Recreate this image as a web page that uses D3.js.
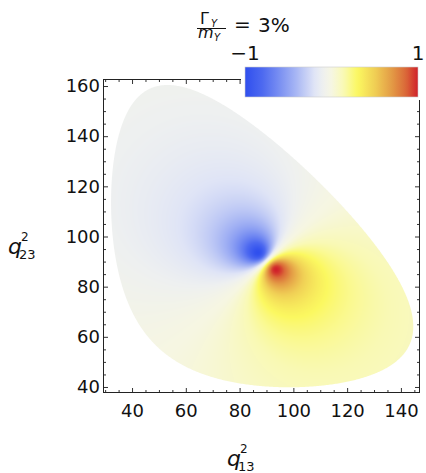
<!DOCTYPE html>
<html><head><meta charset="utf-8">
<script src="https://cdn.jsdelivr.net/npm/d3@7"></script>
<style>body{margin:0;background:#fff} svg{display:block} text{font-family:"DejaVu Sans",sans-serif;fill:#111}</style>
</head><body>
<svg id="c" width="426" height="473"></svg>
<script>
// ---- data ----
const xTicks = [40, 60, 80, 100, 120, 140];
const yTicks = [40, 60, 80, 100, 120, 140, 160];
const legendTicks = [-1, 1];
const parentMass = 15.715;                 // M
const daughterMasses = [3.05, 3.69, 2.625]; // m1, m2, m3
const resonanceMass2 = 90.2;               // m_Y^2
const resonanceWidthParam = 3.4;           // m_Y * Gamma_Y
const falloff = 1.15;                       // sharpness of the interference lobes
const titleRatio = "3%";

// ---- style / layout ----
const frame = {left: 103, right: 420, top: 79, bottom: 393};
const cmapPos = [0, 0.1, 0.2, 0.3, 0.4, 0.45, 0.5, 0.57, 0.65, 0.75, 0.85, 0.93, 1];
const cmapCol = ["#2f4fee", "#4d69f0", "#7a90f2", "#aab8f4", "#dfe4f6", "#eef0f0", "#f6f6e2",
                 "#f9f9b4", "#fbf860", "#f0cf55", "#e39a45", "#da6838", "#d0202a"];

const svg = d3.select("#c");
const x = d3.scaleLinear().domain([29.2, 147.1]).range([frame.left, frame.right]);
const y = d3.scaleLinear().domain([37.6, 162.8]).range([frame.bottom, frame.top]);
const color = d3.scaleLinear().domain(cmapPos.map(t => 2 * t - 1)).range(cmapCol).clamp(true);

function field(s13, s23) {
  const u = s13 - resonanceMass2, v = s23 - resonanceMass2, w = resonanceWidthParam;
  const f = 2 * w * (u - v) / (u * u + v * v + 2 * w * w);
  return Math.sign(f) * Math.pow(Math.abs(f), falloff);
}

// ---- Dalitz boundary ----
const [m1, m2, m3] = daughterMasses, M = parentMass;
function s13Range(s23) {
  const rs = Math.sqrt(s23);
  const E3 = (s23 - m2 * m2 + m3 * m3) / (2 * rs);
  const E1 = (M * M - s23 - m1 * m1) / (2 * rs);
  const p3 = Math.sqrt(Math.max(0, E3 * E3 - m3 * m3));
  const p1 = Math.sqrt(Math.max(0, E1 * E1 - m1 * m1));
  const e = (E3 + E1) * (E3 + E1);
  return [e - (p3 + p1) * (p3 + p1), e - (p3 - p1) * (p3 - p1)];
}
const s23min = (m2 + m3) ** 2, s23max = (M - m1) ** 2;
const N = 500, upper = [], lower = [];
for (let k = 0; k <= N; k++) {
  const s23 = s23min + (s23max - s23min) * (1 - Math.cos(Math.PI * k / N)) / 2;
  const r = s13Range(s23);
  upper.push([r[1], s23]); lower.push([r[0], s23]);
}
const boundary = upper.concat(lower.reverse());
const line = d3.line().x(d => x(d[0])).y(d => y(d[1]));

// ---- density field ----
const cw = frame.right - frame.left, ch = frame.bottom - frame.top;
const cv = document.createElement("canvas"); cv.width = cw; cv.height = ch;
const ctx = cv.getContext("2d"); const img = ctx.createImageData(cw, ch);
for (let j = 0; j < ch; j++) {
  const s23 = y.invert(frame.top + j + 0.5);
  for (let i = 0; i < cw; i++) {
    const s13 = x.invert(frame.left + i + 0.5);
    const c = d3.rgb(color(field(s13, s23)));
    const o = 4 * (j * cw + i);
    img.data[o] = c.r; img.data[o + 1] = c.g; img.data[o + 2] = c.b; img.data[o + 3] = 255;
  }
}
ctx.putImageData(img, 0, 0);

const defs = svg.append("defs");
defs.append("clipPath").attr("id", "dal").append("path").attr("d", line(boundary) + "Z");
svg.append("image").attr("x", frame.left).attr("y", frame.top).attr("width", cw).attr("height", ch)
  .attr("href", cv.toDataURL()).attr("clip-path", "url(#dal)");

// ---- axes ----
const minorX = d3.range(30, 150, 5).filter(v => !xTicks.includes(v) && v > x.domain()[0] && v < x.domain()[1]);
const minorY = d3.range(40, 165, 5).filter(v => !yTicks.includes(v) && v > y.domain()[0] && v < y.domain()[1]);
function addAxis(gen, tx, ty, ticks, size, labels, pad) {
  const g = svg.append("g").attr("transform", `translate(${tx},${ty})`)
    .call(gen.tickValues(ticks).tickSize(-size).tickSizeOuter(0).tickPadding(pad)
      .tickFormat(labels ? d3.format("d") : () => ""));
  g.select(".domain").remove();
  g.selectAll("line").attr("stroke", "#333");
  g.selectAll("text").attr("font-size", 18).attr("fill", "#111").attr("font-family", "DejaVu Sans, sans-serif");
  if (!labels) g.selectAll("text").remove();
  return g;
}
addAxis(d3.axisBottom(x), 0, frame.bottom, xTicks, 5, true, 11);
addAxis(d3.axisBottom(x), 0, frame.bottom, minorX, 3, false, 0);
addAxis(d3.axisTop(x), 0, frame.top, xTicks, 5, false, 0);
addAxis(d3.axisTop(x), 0, frame.top, minorX, 3, false, 0);
addAxis(d3.axisLeft(y), frame.left, 0, yTicks, 5, true, 3);
addAxis(d3.axisLeft(y), frame.left, 0, minorY, 3, false, 0);
addAxis(d3.axisRight(y), frame.right, 0, yTicks, 5, false, 0);
addAxis(d3.axisRight(y), frame.right, 0, minorY, 3, false, 0);
svg.append("rect").attr("x", frame.left + 0.5).attr("y", frame.top + 0.5)
  .attr("width", cw - 1).attr("height", ch - 1).attr("fill", "none").attr("stroke", "#222").attr("stroke-width", 1);

// ---- legend ----
const lg = {x: 245, y: 67, w: 173, h: 30};
svg.append("rect").attr("x", 241).attr("y", 62).attr("width", 185).attr("height", 38).attr("fill", "#fff");
const grad = defs.append("linearGradient").attr("id", "cb");
d3.range(0, 1.0001, 0.02).forEach(t => grad.append("stop").attr("offset", t).attr("stop-color", color(2 * t - 1)));
svg.append("rect").attr("x", lg.x).attr("y", lg.y).attr("width", lg.w).attr("height", lg.h)
  .attr("fill", "url(#cb)").attr("stroke", "#ccc").attr("stroke-width", 0.6);
const lscale = d3.scaleLinear().domain([-1, 1]).range([lg.x, lg.x + lg.w]);
svg.selectAll(".lt").data(legendTicks).enter().append("text")
  .attr("x", d => lscale(d)).attr("y", 60).attr("text-anchor", "middle").attr("font-size", 20)
  .text(d => d < 0 ? "\u2212" + Math.abs(d) : d);

// ---- title ----
svg.append("text").attr("x", 200).attr("y", 24).attr("font-size", 16).text("Γ");
svg.append("text").attr("x", 211).attr("y", 27).attr("font-size", 10).attr("font-style", "italic").text("Y");
svg.append("line").attr("x1", 197).attr("x2", 226).attr("y1", 28.5).attr("y2", 28.5).attr("stroke", "#111").attr("stroke-width", 1);
svg.append("text").attr("x", 198).attr("y", 38).attr("font-size", 16).attr("font-style", "italic").text("m");
svg.append("text").attr("x", 214).attr("y", 41).attr("font-size", 10).attr("font-style", "italic").text("Y");
svg.append("text").attr("x", 234).attr("y", 31).attr("font-size", 20).text("=");
svg.append("text").attr("x", 258).attr("y", 32).attr("font-size", 20).text(titleRatio);

// ---- axis titles ----
function qLabel(px, py, sub) {
  svg.append("text").attr("x", px).attr("y", py).attr("font-size", 22).attr("font-style", "italic").text("q");
  svg.append("text").attr("x", px + 13).attr("y", py - 13).attr("font-size", 12).text("2");
  svg.append("text").attr("x", px + 11).attr("y", py + 5).attr("font-size", 13).text(sub);
}
qLabel(227, 466, "13");
qLabel(8, 254, "23");
</script>
</body></html>
